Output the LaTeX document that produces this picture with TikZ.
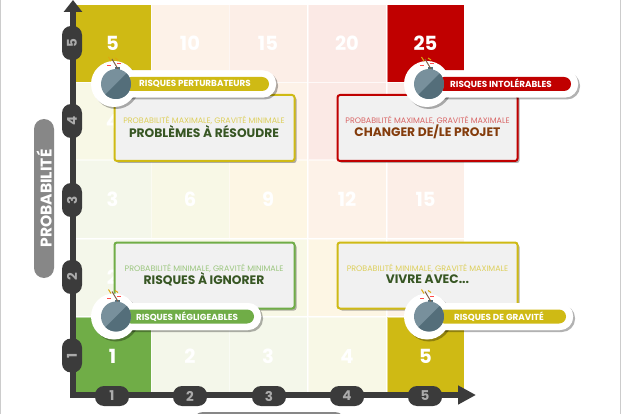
\documentclass[tikz,border=0pt]{standalone}
\usepackage{fontspec}
\setmainfont{Poppins}
\usetikzlibrary{calc,shadows,arrows.meta}
\definecolor{jaune}{HTML}{CFBA14}
\definecolor{rouge}{HTML}{C00000}
\definecolor{vert}{HTML}{70AD47}
\definecolor{axe}{HTML}{3B3B3B}
\definecolor{pastilletxt}{HTML}{ABABAB}
\definecolor{fondbox}{HTML}{F1F1F1}
\definecolor{vertfonce}{HTML}{375623}
\definecolor{brun}{HTML}{843C0C}
\definecolor{bombeA}{HTML}{78909C}
\definecolor{bombeB}{HTML}{546E7A}
\definecolor{cA}{HTML}{F4F7EA}
\definecolor{cB}{HTML}{F8F8E6}
\definecolor{cC}{HTML}{FDF6E4}
\definecolor{cD}{HTML}{FDF2E8}
\definecolor{cE}{HTML}{FCEEE7}
\definecolor{cF}{HTML}{FBE9E5}
\tikzset{
  cell/.style={minimum width=77.5pt,minimum height=77.5pt,inner sep=0pt,draw=white,draw opacity=0.5,line width=0.5pt,text=white,font=\fontsize{19.5}{20}\selectfont\bfseries},
  pastille/.style={fill=axe,rounded corners=9pt,inner sep=0pt,text=pastilletxt,font=\fontsize{13.5}{14}\selectfont\bfseries},
  ombre/.style={drop shadow={shadow xshift=2pt,shadow yshift=-2pt,fill=black,opacity=0.3}},
  infobox/.style={fill=fondbox,line width=2pt,rounded corners=2.5pt,minimum width=180pt,minimum height=66pt,inner sep=0pt,ombre},
  petit/.style={font=\fontsize{7.95}{8}\selectfont,inner sep=0pt},
  grand/.style={font=\fontsize{12.3}{12}\selectfont\bfseries,inner sep=0pt},
  ruban/.style={font=\fontsize{8.8}{9}\selectfont\bfseries,text=white,inner sep=0pt},
}
\begin{document}
\begin{tikzpicture}[x=1pt,y=-1pt]
\useasboundingbox (0,0) rectangle (621,414);
\fill[white] (0,0) rectangle (621,414);
\draw[black!20,line width=1pt] (0.5,0) -- (0.5,414) (620.5,0) -- (620.5,414);
% grille
\foreach \col/\colx in {1/112.5,2/190,3/268,4/347,5/425.5}{
  \foreach \lig/\ligy in {1/356,2/277.5,3/199,4/121,5/43.5}{
    \pgfmathtruncatemacro{\val}{\col*\lig}
    \pgfmathtruncatemacro{\cas}{\val<4 ? 1 : (\val<7 ? 2 : (\val<10 ? 3 : (\val<13 ? 4 : (\val<16 ? 5 : 6))))}
    \ifcase\cas\or\def\teinte{cA}\or\def\teinte{cB}\or\def\teinte{cC}\or\def\teinte{cD}\or\def\teinte{cE}\or\def\teinte{cF}\fi
    \node[cell,fill=\teinte] (c\col\lig) at (\colx,\ligy) {};
  }
}
% nombres visibles
\foreach \cel/\val in {c25/10,c35/15,c45/20,c14/4,c13/3,c23/6,c33/9,c43/12,c53/15,c12/2,c21/2,c31/3,c41/4}
  \node[text=white,font=\fontsize{19.5}{20}\selectfont\bfseries] (n\cel) at (\cel) {\val};
\node[cell,fill=jaune] (c15) at (112.5,43.5) {5};
\node[cell,fill=rouge] (c55) at (425.5,43.5) {25};
\node[cell,fill=vert] (c11) at (112.5,356) {1};
\node[cell,fill=jaune] (c51) at (425.5,356) {5};
% axes
\coordinate (orig) at (73,395);
\coordinate (haut) at (73,0);
\coordinate (droite) at (476,395);
\draw[axe,line width=6pt,-{Triangle[length=12pt,width=18pt]}] (orig) -- (haut);
\draw[axe,line width=6pt,-{Triangle[length=18pt,width=18pt]}] ($(orig)+(-3,0)$) -- (droite);
\foreach \n/\y in {1/355.5,2/277,3/200,4/121,5/43}
  \node[pastille,minimum width=34pt,minimum height=20pt,rotate=90] (py\n) at (72,\y) {\n};
\foreach \n/\x in {1/112,2/190,3/269,4/347,5/425}
  \node[pastille,minimum width=34pt,minimum height=20pt] (px\n) at (\x,396) {\n};
\node[fill=black!47,rounded corners=10pt,minimum width=159pt,minimum height=20pt,inner sep=0pt,rotate=90,text=white,font=\fontsize{15.5}{16}\selectfont\bfseries] (axeprob) at (44,198.5) {PROBABILITÉ};
\begin{scope}
\clip (0,0) rectangle (621,414);
\node[fill=black!47,rounded corners=10pt,minimum width=152pt,minimum height=20pt,inner sep=0pt] (axegrav) at (269,422) {};
\end{scope}
% cadres
\node[infobox,draw=jaune] (box1) at (204.5,128) {};
\node[petit,text=jaune!70] (b1s) at (204,120.5) {PROBABILITÉ MAXIMALE, GRAVITÉ MINIMALE};
\node[grand,text=vertfonce] (b1g) at (204,131.5) {PROBLÈMES À RÉSOUDRE};
\node[infobox,draw=rouge] (box2) at (427.5,128) {};
\node[petit,text=rouge!60] (b2s) at (427.5,120.5) {PROBABILITÉ MAXIMALE, GRAVITÉ MAXIMALE};
\node[grand,text=brun] (b2g) at (427.5,131.5) {CHANGER DE/LE PROJET};
\node[infobox,draw=vert] (box3) at (204.5,275.5) {};
\node[petit,text=vert!70] (b3s) at (204,268.5) {PROBABILITÉ MINIMALE, GRAVITÉ MINIMALE};
\node[grand,text=vertfonce] (b3g) at (204,279.5) {RISQUES À IGNORER};
\node[infobox,draw=jaune] (box4) at (427.5,275.5) {};
\node[petit,text=jaune!70] (b4s) at (427.5,268.5) {PROBABILITÉ MINIMALE, GRAVITÉ MAXIMALE};
\node[grand,text=vertfonce] (b4g) at (427.5,279.5) {VIVRE AVEC...};
% bombes
\foreach \nom/\cx/\cy/\fin/\coul/\tx/\txt in {
  perturb/114/84/276/jaune/195/RISQUES PERTURBATEURS,
  intol/427/84/578/rouge/501/RISQUES INTOLÉRABLES,
  neglig/114/316.5/261/vert/187/RISQUES NÉGLIGEABLES,
  gravite/427/316.5/573/jaune/499/RISQUES DE GRAVITÉ}{
  \fill[white,ombre,rounded corners=13pt] (\cx,\cy-13.5) rectangle (\fin,\cy+13.5);
  \fill[white,ombre] (\cx,\cy) circle (23);
  \fill[white,rounded corners=13pt] (\cx,\cy-13.5) rectangle (\fin,\cy+13.5);
  \fill[\coul,rounded corners=7pt] (\cx+10,\cy-7) rectangle (\fin-7,\cy+7);
  \node[ruban] (t\nom) at (\tx,\cy) {\txt};
  \begin{scope}[shift={(\cx+2,\cy)}]
    \fill[bombeB] (-1,-17) rectangle (4,-13);
    \draw[brun!50!gray,line width=1pt] (2,-15) -- (-4,-25);
    \fill[bombeA] (0,0) circle (15);
    \begin{scope}
      \clip (0,0) circle (15);
      \fill[bombeB] (15,-15) -- (-15,15) -- (15,15) -- cycle;
    \end{scope}
    \draw[jaune!70!orange,line width=1pt] (-7.5,-27) -- (-5,-23) (-1,-26) -- (2,-24);
    \draw[red!70!white,line width=1pt] (-9,-18) -- (-5,-18) (1,-20) -- (5,-20);
  \end{scope}
}
\end{tikzpicture}
\end{document}
